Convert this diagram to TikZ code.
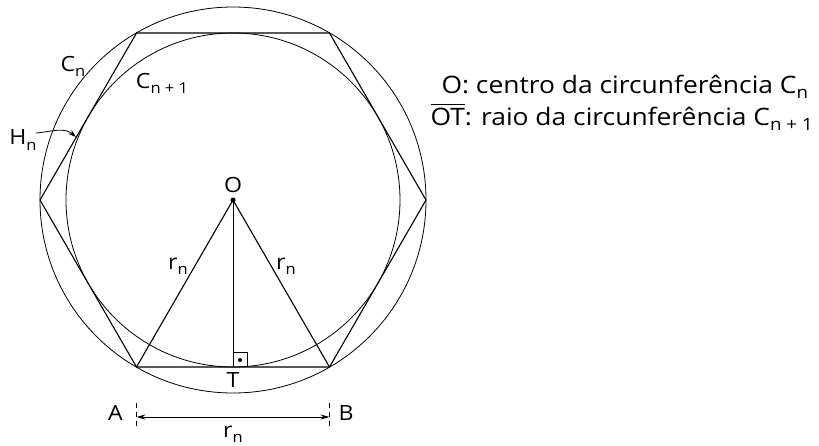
\documentclass[tikz,border=0pt]{standalone}
\usepackage{fontspec}
\setmainfont[FakeStretch=1.1]{Open Sans}
\usetikzlibrary{arrows.meta}
\newcommand{\lsub}[1]{\raisebox{-0.45ex}{\fontsize{15}{15}\selectfont #1}}
\newcommand{\gsub}[1]{\raisebox{-0.45ex}{\fontsize{17}{17}\selectfont #1}}
\newcommand{\ovl}[1]{\setbox0=\hbox{#1}\rlap{\raisebox{\dimexpr\ht0+3pt\relax}{\rule{\wd0}{0.9pt}}}\box0}
\begin{document}
\begin{tikzpicture}[x=1pt,y=-1pt,
  line width=1.1pt,
  lbl/.style={inner sep=0pt,font=\fontsize{21}{25}\selectfont},
  leg/.style={inner sep=0pt,font=\fontsize{24}{28}\selectfont,anchor=base west},
  dimarrow/.style={{Stealth[length=9pt,width=5pt]}-{Stealth[length=9pt,width=5pt]},line width=0.8pt},
  tick/.style={dashed,dash pattern=on 5pt off 4pt,line width=0.8pt}]
\useasboundingbox (0,0) rectangle (819,445);
\coordinate (O) at (233,200);
\coordinate (T) at (233,367);
\coordinate (P1) at (40,200);
\coordinate (P2) at (136.5,33);
\coordinate (P3) at (329.5,33);
\coordinate (P4) at (426,200);
\coordinate (A) at (136.5,367);
\coordinate (B) at (329.5,367);
% circles
\draw[line width=0.8pt] (O) circle (193);
\draw[line width=0.8pt] (O) circle (167);
% hexagon
\draw (P1) -- (P2) -- (P3) -- (P4) -- (B) -- (A) -- cycle;
% radii
\draw (A) -- (O) -- (B);
\draw[line width=1pt] (O) -- (T);
\fill (O) circle (2.5);
% right angle
\draw[line width=0.8pt] (233,352) -- (247,352) -- (247,367);
\fill (240,360) circle (2);
% labels
\node[lbl] (lO) at (233,185) {O};
\node[lbl] (lT) at (233,380) {T};
\node[lbl] (lrl) at (178,266) {r\lsub{n}};
\node[lbl] (lrr) at (286,266) {r\lsub{n}};
\node[lbl] (lCn) at (73,66) {C\lsub{n}};
\node[lbl] (lCn1) at (162,83) {C\lsub{n + 1}};
\node[lbl] (lHn) at (23,140) {H\lsub{n}};
\coordinate (hn) at (76,137);
\draw[line width=0.8pt,-{Stealth[length=8pt,width=5pt]}] (36,133) to[out=5,in=140] (hn);
% dimension
\coordinate (dA1) at (136.5,403);
\coordinate (dA2) at (136.5,429);
\coordinate (dB1) at (329.5,403);
\coordinate (dB2) at (329.5,429);
\draw[tick] (dA1) -- (dA2);
\draw[tick] (dB1) -- (dB2);
\coordinate (dA) at (136.5,417);
\coordinate (dB) at (329.5,417);
\draw[dimarrow] (dA) -- (dB);
\node[lbl] (lA) at (115.5,413) {A};
\node[lbl] (lB) at (346,413) {B};
\node[lbl,anchor=base] (lr) at (233,437) {r\lsub{n}};
% legend
\node[leg] (leg1) at (441,93) {O: centro da circunferência C\gsub{n}};
\node[leg] (leg2) at (430,125) {\ovl{OT}: raio da circunferência C\gsub{n + 1}};
\end{tikzpicture}
\end{document}
